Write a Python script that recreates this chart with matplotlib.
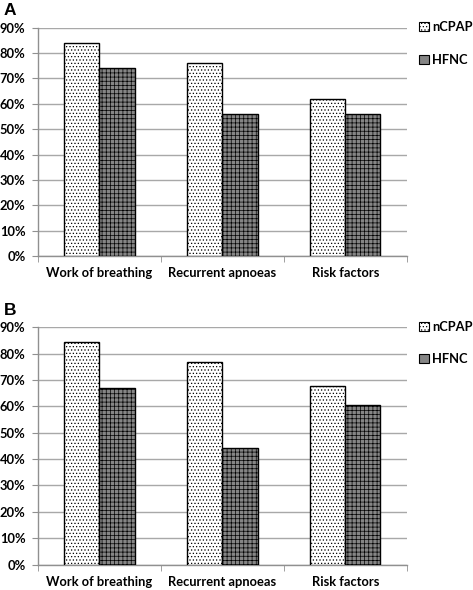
import numpy as np
import matplotlib
matplotlib.use("Agg")
import matplotlib.pyplot as plt
from matplotlib.patches import Patch

plt.rcParams['font.family'] = ['Lato', 'DejaVu Sans']
plt.rcParams['hatch.linewidth'] = 0.5

categories = ["Work of breathing", "Recurrent apnoeas", "Risk factors"]
series = ["nCPAP", "HFNC"]
ncpap_a = [84, 76, 62]
hfnc_a = [74, 56, 56]
ncpap_b = [84.4, 77, 67.9]
hfnc_b = [67, 44.2, 60.6]
yticks = [0, 10, 20, 30, 40, 50, 60, 70, 80, 90]

fig = plt.figure(figsize=(4.73, 5.9), dpi=100)
ax_a = fig.add_axes([0.0803, 0.5656, 0.780, 0.3875])
ax_b = fig.add_axes([0.0803, 0.0432, 0.780, 0.402])

x = np.arange(len(categories))
w = 0.285
fs = 9.3

def draw(ax, v1, v2):
    ax.bar(x - w / 2, v1, w, facecolor='white', edgecolor='black',
           hatch='.....', linewidth=1.0, zorder=3)
    ax.bar(x + w / 2, v2, w, facecolor='#858585', edgecolor='black',
           hatch='++++', linewidth=1.0, zorder=3)
    ax.set_ylim(0, 90)
    ax.set_xlim(-0.5, 2.5)
    ax.set_yticks(yticks)
    ax.set_yticklabels([f"{t}%" for t in yticks], fontsize=fs, fontweight='bold')
    ax.set_xticks(x)
    ax.set_xticklabels(categories, fontsize=fs, fontweight='bold')
    ax.set_xticks([-0.5, 0.5, 1.5, 2.5], minor=True)
    ax.tick_params(axis='x', which='major', length=0, pad=8)
    ax.tick_params(axis='x', which='minor', length=4, color='#909090')
    ax.tick_params(axis='y', length=4, color='#909090', pad=5)
    ax.grid(axis='y', color='#a8a8a8', linewidth=1.0, zorder=0)
    for s in ['top', 'right']:
        ax.spines[s].set_visible(False)
    for s in ['left', 'bottom']:
        ax.spines[s].set_color('#909090')
        ax.spines[s].set_linewidth(1.0)
    handles = [Patch(facecolor='white', edgecolor='black', hatch='.....', linewidth=0.8),
               Patch(facecolor='#858585', edgecolor='black', linewidth=0.8)]
    ax.legend(handles, series, loc='upper left', bbox_to_anchor=(1.02, 1.05),
              frameon=False, handlelength=0.7, handleheight=0.7,
              handletextpad=0.3, labelspacing=1.6, borderaxespad=0.0,
              prop={'size': fs, 'weight': 'bold'})

draw(ax_a, ncpap_a, hfnc_a)
draw(ax_b, ncpap_b, hfnc_b)

fig.text(0.008, 0.995, "A", fontsize=12.5, fontweight='bold', va='top',
         family=['Liberation Sans', 'DejaVu Sans'])
fig.text(0.008, 0.487, "B", fontsize=12.5, fontweight='bold', va='top',
         family=['Liberation Sans', 'DejaVu Sans'])

fig.savefig("out.png", dpi=100)
